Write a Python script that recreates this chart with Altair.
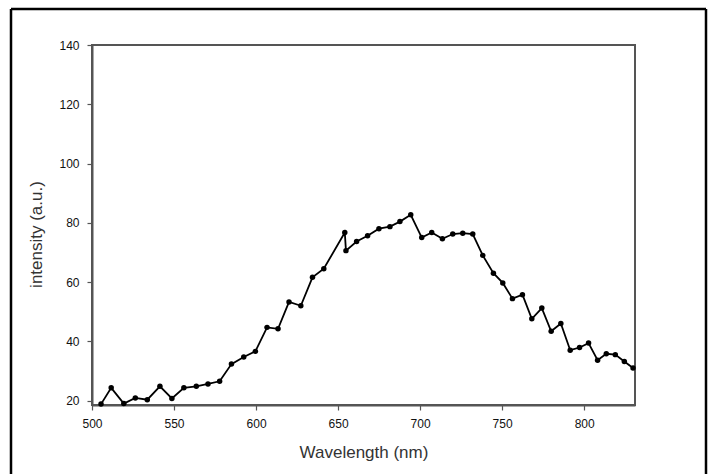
import altair as alt
import pandas as pd

wavelength = [505.5, 511.7, 519.4, 526.4, 533.7, 541.4, 548.7, 556.0, 563.6, 570.7,
              577.8, 585.0, 592.5, 599.6, 606.7, 613.4, 620.1, 627.3, 634.4, 641.3,
              654.1, 654.8, 661.3, 668.0, 674.9, 681.6, 687.7, 694.3, 701.0, 707.1,
              713.6, 719.9, 726.0, 732.1, 738.2, 744.7, 750.4, 756.3, 762.4, 768.1,
              774.2, 779.9, 785.8, 791.5, 797.2, 802.7, 808.2, 813.5, 819.0, 824.5,
              829.8]
intensity = [18.8, 24.3, 19.0, 20.9, 20.3, 24.8, 20.7, 24.3, 24.8, 25.6,
             26.5, 32.3, 34.7, 36.6, 44.7, 44.2, 53.3, 52.0, 61.6, 64.5,
             76.7, 70.6, 73.7, 75.6, 78.0, 78.7, 80.4, 82.7, 75.0, 76.7,
             74.6, 76.2, 76.5, 76.2, 69.0, 63.0, 59.7, 54.4, 55.7, 47.6,
             51.2, 43.4, 46.0, 37.0, 37.9, 39.4, 33.6, 35.8, 35.5, 33.2,
             31.0]
x_ticks = [500, 550, 600, 650, 700, 750, 800]
y_ticks = [20, 40, 60, 80, 100, 120, 140]

df = pd.DataFrame({"wl": wavelength, "val": intensity, "idx": list(range(len(wavelength)))})

x_enc = alt.X("wl:Q", scale=alt.Scale(domain=[500, 831], nice=False, zero=False),
              axis=alt.Axis(title="Wavelength (nm)", values=x_ticks, grid=False,
                            labelFlush=False, titleY=39, titleBaseline="top"))
y_enc = alt.Y("val:Q", scale=alt.Scale(domain=[18.5, 140], nice=False, zero=False),
              axis=alt.Axis(title="intensity (a.u.)", values=y_ticks, grid=False,
                            labelFlush=False,
                            titleX=-56, titleY=189, titleBaseline="middle",
                            titleAlign="center", titleAngle=270))

line = alt.Chart(df).mark_line(color="black", strokeWidth=1.8).encode(
    x=x_enc, y=y_enc, order="idx:Q")
pts = alt.Chart(df).mark_point(filled=True, color="black", size=30, opacity=1).encode(
    x="wl:Q", y="val:Q")

one = pd.DataFrame({"a": [0]})
frame_l = alt.Chart(one).mark_rule(color="black", strokeWidth=2.5).encode(
    x=alt.value(-81), y=alt.value(-36), y2=alt.value(440))
frame_r = alt.Chart(one).mark_rule(color="black", strokeWidth=2.5).encode(
    x=alt.value(614), y=alt.value(-36), y2=alt.value(440))
frame_t = alt.Chart(one).mark_rule(color="black", strokeWidth=2.5).encode(
    x=alt.value(-81), x2=alt.value(614), y=alt.value(-36))

chart = alt.layer(line, pts, frame_l, frame_r, frame_t).properties(
    width=543, height=360,
    autosize=alt.AutoSizeParams(type="none"),
    padding={"left": 92, "top": 45, "right": 78, "bottom": 69},
    background="white",
).configure_view(
    stroke="#555", strokeWidth=2
).configure_axis(
    domainColor="#555", domainWidth=2, tickColor="#555", tickWidth=1.2, tickSize=5,
    labelFont="Liberation Sans", labelFontSize=12, labelColor="#111", labelPadding=8,
    titleFont="Liberation Sans", titleFontSize=17, titleFontWeight="normal", titleColor="#333",
)

chart.save("out.html", embed_options={"renderer": "svg", "actions": False})
